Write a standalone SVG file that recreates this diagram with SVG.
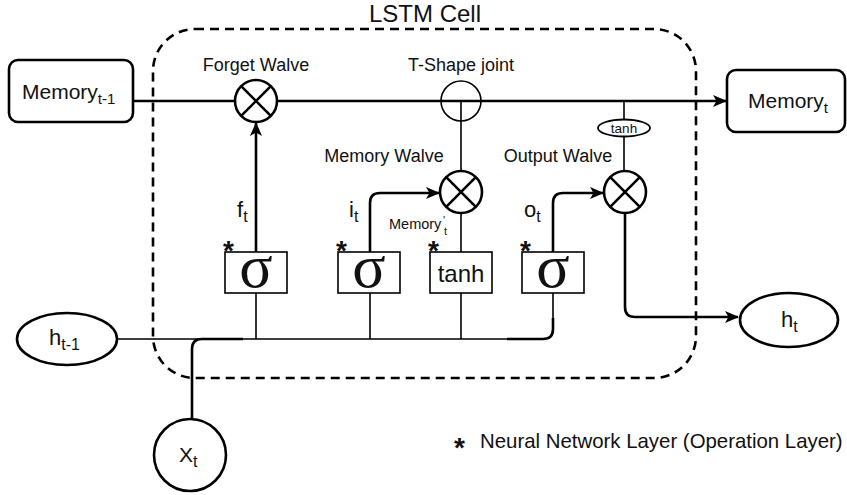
<svg xmlns="http://www.w3.org/2000/svg" width="847" height="495" viewBox="0 0 847 495">
<style>
text{font-family:"Liberation Sans",Arial,sans-serif;fill:#111}
.thick{fill:none;stroke:#000;stroke-width:2.6}
.thin{fill:none;stroke:#000;stroke-width:1.6}
.box{fill:#fff;stroke:#000;stroke-width:1.6}
.node{fill:#fff;stroke:#000;stroke-width:2.6}
.sig{font-family:"Liberation Serif","Times New Roman",serif;font-size:62px;text-anchor:middle}
.lbl{font-size:18px;text-anchor:middle}
.star{font-family:"Liberation Sans",Arial,sans-serif;font-weight:bold;font-size:28px}
</style>
<defs>
<marker id="arr" markerUnits="userSpaceOnUse" markerWidth="14" markerHeight="12" refX="13" refY="6" orient="auto" viewBox="0 0 14 12">
<path d="M0,0 L14,6 L0,12 L3.5,6 z" fill="#000"/>
</marker>
</defs>

<g id="cell-boundary">
<rect x="153" y="29" width="543" height="349" rx="42" ry="42" fill="none" stroke="#000" stroke-width="2.6" stroke-dasharray="9 6"/>
<text x="425" y="22" font-size="24" text-anchor="middle">LSTM Cell</text>
</g>

<g id="connectors">
<path class="thick" d="M133,101 H726" marker-end="url(#arr)"/>
<path class="thin" d="M461,101 V171"/>
<path class="thin" d="M461,213 V252"/>
<path class="thin" d="M624,101 V120"/>
<path class="thin" d="M624,136 V171"/>
<path class="thick" d="M256,252 V123" marker-end="url(#arr)"/>
<path class="thick" d="M370,252 V203 Q370,193 380,193 H439" marker-end="url(#arr)"/>
<path class="thick" d="M553,252 V203 Q553,193 563,193 H603" marker-end="url(#arr)"/>
<path class="thick" d="M625,213 V307 Q625,317 635,317 H738" marker-end="url(#arr)"/>
<path class="thin" d="M117,339 H543 Q553,339 553,329 V293"/>
<path class="thick" d="M507,339 H543 Q553,339 553,329 V318"/>
<path class="thin" d="M256,293 V339"/>
<path class="thin" d="M370,293 V339"/>
<path class="thin" d="M461,293 V339"/>
<path class="thick" d="M192,419 V349 Q192,339 202,339 H243"/>
</g>

<g id="memory-prev">
<rect class="node" x="9" y="60" width="124" height="62" rx="9"/>
<text x="22" y="99" font-size="21">Memory<tspan font-size="15" dy="5">t-1</tspan></text>
</g>

<g id="memory-t">
<rect class="node" x="727" y="70" width="118" height="62" rx="9"/>
<text x="748" y="108" font-size="21">Memory<tspan font-size="15" dy="5">t</tspan></text>
</g>

<g id="forget-walve">
<circle class="node" cx="256" cy="101" r="21"/>
<path class="thick" d="M241.2,86.2 L270.8,115.8 M270.8,86.2 L241.2,115.8"/>
<text class="lbl" x="256" y="71">Forget Walve</text>
</g>

<g id="t-shape-joint">
<circle cx="461" cy="101" r="20" fill="none" stroke="#000" stroke-width="1.6"/>
<text class="lbl" x="461" y="71">T-Shape joint</text>
</g>

<g id="memory-walve">
<circle class="node" cx="461" cy="192" r="21"/>
<path class="thick" d="M446.2,177.2 L475.8,206.8 M475.8,177.2 L446.2,206.8"/>
<text class="lbl" x="384" y="162">Memory Walve</text>
</g>

<g id="output-walve">
<circle class="node" cx="625" cy="192" r="21"/>
<path class="thick" d="M610.2,177.2 L639.8,206.8 M639.8,177.2 L610.2,206.8"/>
<text class="lbl" x="558" y="162">Output Walve</text>
</g>

<g id="tanh-small">
<ellipse cx="624" cy="128" rx="26" ry="8.5" fill="#fff" stroke="#000" stroke-width="1.8"/>
<text x="624" y="133" font-size="13.5" text-anchor="middle">tanh</text>
</g>

<g id="labels">
<text x="237" y="217" font-size="22">f<tspan font-size="16" dy="5">t</tspan></text>
<text x="349" y="217" font-size="22">i<tspan font-size="16" dy="5">t</tspan></text>
<text x="524" y="217" font-size="22">o<tspan font-size="16" dy="5">t</tspan></text>
<text x="389" y="229" font-size="14.5">Memory</text>
<text x="443" y="224" font-size="11">'</text>
<text x="444" y="235" font-size="11">t</text>
</g>

<g id="sigma-forget">
<rect class="box" x="225" y="252" width="62" height="41"/>
<text class="sig" x="256" y="287">σ</text>
<text class="star" x="223" y="260">*</text>
</g>

<g id="sigma-input">
<rect class="box" x="338" y="252" width="62" height="41"/>
<text class="sig" x="369" y="287">σ</text>
<text class="star" x="336" y="260">*</text>
</g>

<g id="tanh-layer">
<rect class="box" x="430" y="252" width="62" height="41"/>
<text x="461" y="282" font-size="24" text-anchor="middle">tanh</text>
<text class="star" x="428" y="260">*</text>
</g>

<g id="sigma-output">
<rect class="box" x="522" y="252" width="62" height="41"/>
<text class="sig" x="553" y="287">σ</text>
<text class="star" x="520" y="260">*</text>
</g>

<g id="h-prev">
<ellipse class="node" cx="67" cy="339" rx="50" ry="26"/>
<text x="49" y="345" font-size="22">h<tspan font-size="16" dy="5">t-1</tspan></text>
</g>

<g id="x-t">
<circle class="node" cx="190" cy="455" r="36"/>
<text x="179" y="462" font-size="21">X<tspan font-size="16" dy="5">t</tspan></text>
</g>

<g id="h-t">
<ellipse class="node" cx="789" cy="320" rx="49" ry="27"/>
<text x="781" y="327" font-size="22">h<tspan font-size="16" dy="5">t</tspan></text>
</g>

<g id="legend">
<text class="star" x="454" y="457">*</text>
<text x="480" y="448" font-size="20.4">Neural Network Layer (Operation Layer)</text>
</g>
</svg>
